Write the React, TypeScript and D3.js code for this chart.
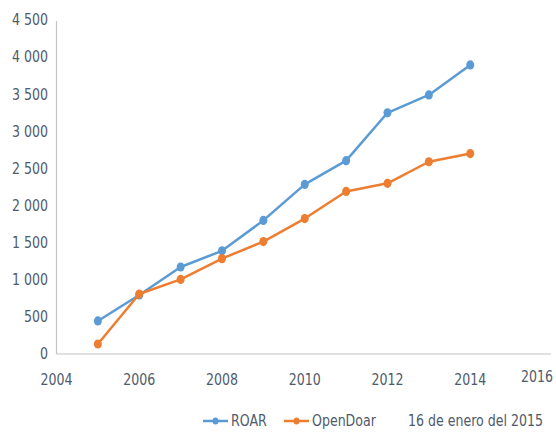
import React from "react";
import * as d3 from "d3";

const years = [2005, 2006, 2007, 2008, 2009, 2010, 2011, 2012, 2013, 2014];
const roar = [445, 795, 1172, 1390, 1800, 2285, 2605, 3250, 3490, 3895];
const openDoar = [135, 808, 1005, 1285, 1515, 1825, 2190, 2300, 2590, 2700];
const xTicks = [2004, 2006, 2008, 2010, 2012, 2014, 2016];
const yTicks = [0, 500, 1000, 1500, 2000, 2500, 3000, 3500, 4000, 4500];
const seriesNames = ["ROAR", "OpenDoar"];
const note = "16 de enero del 2015";

const W = 556;
const H = 432;
const font = "'DejaVu Sans Condensed', 'DejaVu Sans', sans-serif";
const textColor = "#4f5a6b";
const colors = ["#5b9bd5", "#ed7d31"];
const FS = 16;
const SX = 0.875;

function T({ x, y, anchor, children }: { x: number; y: number; anchor?: string; children: React.ReactNode }) {
  return (
    <text
      transform={`translate(${x},${y}) scale(${SX},1)`}
      textAnchor={anchor || "start"}
      dominantBaseline="central"
      fontSize={FS}
      fill={textColor}
    >
      {children}
    </text>
  );
}

export default function App() {
  const x = d3.scaleLinear().domain([2004, 2016]).range([56.5, 553]);
  const y = d3.scaleLinear().domain([0, 4500]).range([354, 20]);
  const line = d3
    .line<number>()
    .x((_, i) => x(years[i]))
    .y((d) => y(d));
  const fmt = (v: number) => d3.format(",")(v).replace(/,/g, " ");
  const series = [roar, openDoar];
  const legendX = [203, 284];

  return (
    <svg
      width={W}
      height={H}
      style={{ position: "absolute", left: 0, top: 0, background: "#fff" }}
      fontFamily={font}
    >
      <line x1={x(2004)} x2={x(2004)} y1={y(4500) + 1} y2={y(0)} stroke="#c4c4c4" strokeWidth={1.2} />
      <line x1={x(2004)} x2={551} y1={y(0)} y2={y(0)} stroke="#c4c4c4" strokeWidth={1.2} />
      {yTicks.map((t) => (
        <T key={t} x={48} y={y(t)} anchor="end">
          {fmt(t)}
        </T>
      ))}
      {xTicks.map((t) => (
        <T key={t} x={t === 2016 ? 537 : x(t)} y={t === 2016 ? 377 : 380} anchor="middle">
          {t}
        </T>
      ))}
      {series.map((s, k) => (
        <g key={k}>
          <path d={line(s) || ""} fill="none" stroke={colors[k]} strokeWidth={2.5} strokeLinejoin="round" />
          {s.map((v, i) => (
            <ellipse key={i} cx={x(years[i])} cy={y(v)} rx={4} ry={4.6} fill={colors[k]} />
          ))}
        </g>
      ))}
      {seriesNames.map((n, k) => (
        <g key={n}>
          <line x1={legendX[k]} x2={legendX[k] + 25} y1={421} y2={421} stroke={colors[k]} strokeWidth={2.5} />
          <ellipse cx={legendX[k] + 12.5} cy={421} rx={3} ry={3.5} fill={colors[k]} />
          <T x={legendX[k] + 28} y={421}>
            {n}
          </T>
        </g>
      ))}
      <T x={408} y={421}>
        {note}
      </T>
    </svg>
  );
}
